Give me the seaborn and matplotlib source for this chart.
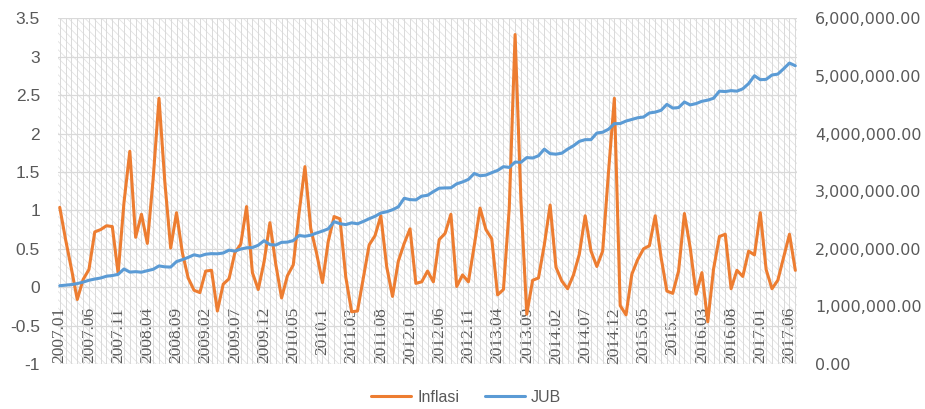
import numpy as np
import pandas as pd
import matplotlib
matplotlib.use('Agg')
import matplotlib.pyplot as plt
import seaborn as sns
from matplotlib.patches import Rectangle
from matplotlib.ticker import FuncFormatter, MultipleLocator

# monthly periods 2007.01 .. 2017.07
years = list(range(2007, 2018))
periods = [f"{y}.{m:02d}" for y in years for m in range(1, 13)][:127]

# monthly inflation (%)
inflasi = [
    1.04, 0.62, 0.24, -0.16, 0.10, 0.23, 0.72, 0.75, 0.80, 0.79, 0.18, 1.10,
    1.77, 0.65, 0.95, 0.57, 1.41, 2.46, 1.37, 0.51, 0.97, 0.45, 0.12, -0.04,
    -0.07, 0.21, 0.22, -0.31, 0.04, 0.11, 0.45, 0.56, 1.05, 0.19, -0.03, 0.33,
    0.84, 0.30, -0.14, 0.15, 0.29, 0.97, 1.57, 0.76, 0.44, 0.06, 0.60, 0.92,
    0.89, 0.13, -0.32, -0.31, 0.12, 0.55, 0.67, 0.93, 0.27, -0.12, 0.34, 0.57,
    0.76, 0.05, 0.07, 0.21, 0.07, 0.62, 0.70, 0.95, 0.01, 0.16, 0.07, 0.54,
    1.03, 0.75, 0.63, -0.10, -0.03, 1.03, 3.29, 1.12, -0.35, 0.09, 0.12, 0.55,
    1.07, 0.26, 0.08, -0.02, 0.16, 0.43, 0.93, 0.47, 0.27, 0.47, 1.50, 2.46,
    -0.24, -0.36, 0.17, 0.36, 0.50, 0.54, 0.93, 0.39, -0.05, -0.08, 0.21, 0.96,
    0.51, -0.09, 0.19, -0.45, 0.24, 0.66, 0.69, -0.02, 0.22, 0.14, 0.47, 0.42,
    0.97, 0.23, -0.02, 0.09, 0.39, 0.69, 0.22,
]

# money supply JUB (billion Rp)
jub = [
    1359000, 1369000, 1379000, 1396000, 1422000, 1454000, 1475000, 1493000, 1524000, 1536000, 1556000, 1649662,
    1596000, 1603000, 1594000, 1620000, 1644000, 1703000, 1687000, 1683000, 1778000, 1812000, 1851000, 1895839,
    1874000, 1906000, 1916000, 1913000, 1927000, 1977000, 1960000, 1995000, 2018000, 2021000, 2062000, 2141384,
    2073000, 2066000, 2112000, 2116000, 2143000, 2231000, 2218000, 2236000, 2274000, 2308000, 2347000, 2471206,
    2436000, 2420000, 2451000, 2434000, 2475000, 2522000, 2564000, 2621000, 2643000, 2678000, 2729000, 2877220,
    2854000, 2849000, 2914000, 2929000, 2993000, 3052000, 3057000, 3059000, 3128000, 3161000, 3205000, 3307508,
    3268000, 3280000, 3322000, 3361000, 3426000, 3413000, 3506000, 3502000, 3584000, 3576000, 3615000, 3730197,
    3652000, 3643000, 3660000, 3730000, 3789000, 3865000, 3895000, 3895000, 4010000, 4024000, 4076000, 4173327,
    4174000, 4218000, 4246000, 4275000, 4288000, 4358000, 4373000, 4404000, 4508000, 4443000, 4452000, 4548800,
    4498000, 4521000, 4561000, 4581000, 4614000, 4737000, 4730000, 4746000, 4737000, 4778000, 4868000, 5004977,
    4936000, 4942000, 5017000, 5033000, 5126000, 5225000, 5178000,
]

tick_labels = ["2007.01", "2007.06", "2007.11", "2008.04", "2008.09", "2009.02",
               "2009.07", "2009.12", "2010.05", "2010.1", "2011.03", "2011.08",
               "2012.01", "2012.06", "2012.11", "2013.04", "2013.09", "2014.02",
               "2014.07", "2014.12", "2015.05", "2015.1", "2016.03", "2016.08",
               "2017.01", "2017.06"]

df = pd.DataFrame({"periode": periods, "Inflasi": inflasi, "JUB": jub})
df["idx"] = np.arange(len(df))

sns.set_style("white")
plt.rcParams['font.family'] = ['Liberation Sans', 'DejaVu Sans']
plt.rcParams['hatch.linewidth'] = 0.6

fig = plt.figure(figsize=(9.25, 4.09), dpi=100)
ax = fig.add_axes([0.0627, 0.110, 0.799, 0.845])
ax2 = ax.twinx()

# excel-like pattern fill + grid
ax.add_patch(Rectangle((0, 0), 1, 1, transform=ax.transAxes, fill=False,
                       hatch='\\\\\\\\', edgecolor='#e3e3e3', lw=0, zorder=0))

orange = '#ED7D31'
blue = '#5B9BD5'
sns.lineplot(data=df, x="idx", y="Inflasi", ax=ax, color=orange, lw=2.2,
             label='Inflasi', legend=False)
sns.lineplot(data=df, x="idx", y="JUB", ax=ax2, color=blue, lw=2.2,
             label='JUB', legend=False)

ax.set_xlim(-0.3, len(df) - 0.7)
ax.set_ylim(-1, 3.5)
ax2.set_ylim(0, 6000000)
ax.yaxis.set_major_locator(MultipleLocator(0.5))
ax2.yaxis.set_major_locator(MultipleLocator(1000000))
ax.yaxis.set_major_formatter(FuncFormatter(lambda v, p: f"{v:g}"))
ax2.yaxis.set_major_formatter(FuncFormatter(lambda v, p: f"{v:,.2f}"))

ax.set_xticks(df["idx"][::5])
ax.set_xticklabels(tick_labels, rotation=90, family='Liberation Serif',
                   fontsize=12.5, color='#595959')
ax.set_xticks(df["idx"], minor=True)
ax.tick_params(axis='x', which='both', length=0, pad=-41)
ax.tick_params(axis='y', length=0, pad=13, labelsize=12.5, labelcolor='#595959')
ax2.tick_params(axis='y', length=0, pad=13, labelsize=11.5, labelcolor='#595959')
for lab in ax2.get_yticklabels():
    lab.set_family('DejaVu Sans')

ax.grid(True, axis='y', color='#d9d9d9', lw=0.9)
ax.grid(True, axis='x', which='both', color='#d9d9d9', lw=0.7)
ax2.grid(False)
ax.set_xlabel('')
ax.set_ylabel('')
ax2.set_ylabel('')
for a in (ax, ax2):
    for s in a.spines.values():
        s.set_visible(False)

h1, l1 = ax.get_legend_handles_labels()
h2, l2 = ax2.get_legend_handles_labels()
fig.legend(h1 + h2, l1 + l2, loc='center', bbox_to_anchor=(0.504, 0.028),
           ncol=2, frameon=False, fontsize=11.5, handlelength=2.5,
           handletextpad=0.4, columnspacing=1.6, labelcolor='#595959')

fig.savefig('out.png', dpi=100)
